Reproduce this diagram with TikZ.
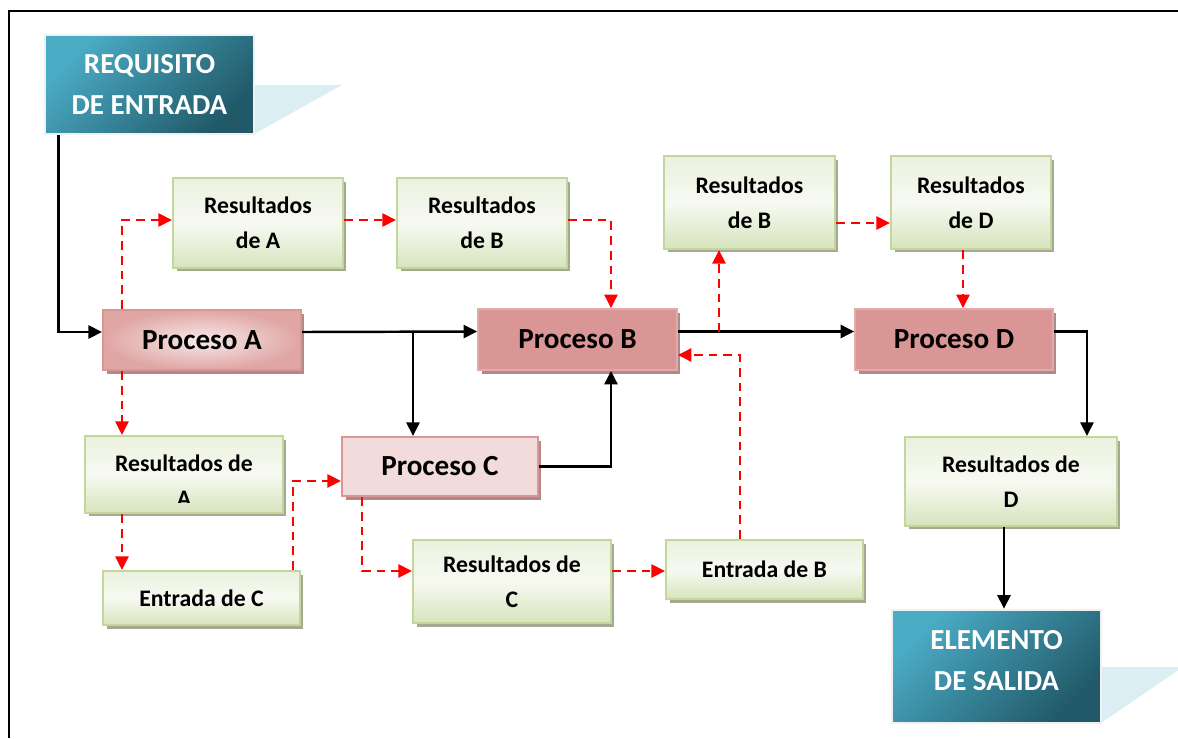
\documentclass[tikz,border=0pt]{standalone}
\usepackage{fontspec}
\setmainfont{Carlito}
\usepackage{tikz}
\usetikzlibrary{arrows.meta}
\usetikzlibrary{shadows}
\definecolor{tealhi}{HTML}{4BACC6}
\definecolor{tealdk}{HTML}{215968}
\definecolor{tailblue}{HTML}{DAEEF3}
\definecolor{rosedk}{HTML}{D99694}
\definecolor{roselt}{HTML}{F2DCDB}
\definecolor{roseshd}{HTML}{B08A89}
\definecolor{greenln}{HTML}{C3D69B}
\definecolor{greentop}{HTML}{EBF1DE}
\definecolor{greenbot}{HTML}{D7E4BD}
\definecolor{greenshd}{HTML}{A5A892}
\tikzset{ioblock/.style = {draw=black!6, line width=1.5pt, top color=tealhi, bottom color=tealdk,
    shading angle=45, text=white, align=center, inner sep=0,
    font=\fontsize{16.5}{23.8}\selectfont\bfseries}}
\tikzset{restext/.style = {align=center, inner sep=0, font=\fontsize{13.5}{19.8}\selectfont\bfseries}}
\tikzset{resbox/.style = {restext, draw=greenln, line width=1.2pt, top color=greentop,
    bottom color=greenbot, middle color=greentop!40!white,
    drop shadow={shadow xshift=0.07cm, shadow yshift=-0.07cm, fill=greenshd, opacity=1}}}
\tikzset{proc/.style = {inner sep=0, minimum width=3.96cm, minimum height=1.2cm,
    font=\fontsize{16.6}{20}\selectfont\bfseries,
    drop shadow={shadow xshift=0.07cm, shadow yshift=-0.07cm, fill=roseshd, opacity=1}}}
\tikzset{procpale/.style = {proc, draw=rosedk, line width=1.2pt, fill=roselt}}
\tikzset{procglow/.style = {proc, draw=rosedk, line width=1.2pt, inner color=roselt!60!white, outer color=rosedk!85!white}}
\tikzset{procfull/.style = {proc, draw=rosedk!80!white, line width=1pt, fill=rosedk}}
\tikzset{flow/.style = {line width=1.4pt, -{Triangle[length=0.27cm, width=0.26cm]}}}
\tikzset{resflow/.style = {red, line width=1.4pt, dash pattern=on 5pt off 3.4pt,
    -{Triangle[length=0.27cm, width=0.26cm]}}}

\begin{document}
\begin{tikzpicture}[x=0.02cm, y=-0.02cm]
    \useasboundingbox (0,0) rectangle (1178,738);
    \draw [line width=1.4pt] (9,738) -- (9,11) -- (1178,11);

    % input and output blocks
    \fill [tailblue] (254,85) -- (342,85) -- (254,134) -- cycle;
    \fill [tailblue] (1101,667) -- (1183,667) -- (1101,723) -- cycle;
    \node [ioblock, minimum width=4.18cm, minimum height=1.98cm] (req) at (149.5,84.5) {REQUISITO\\DE ENTRADA};
    \node [ioblock, minimum width=4.18cm, minimum height=2.26cm, text depth=0.24cm] (sal) at (996.5,666.5) {ELEMENTO\\DE SALIDA};

    % processes
    \node [procglow] (pA) at (202,340) {Proceso A};
    \node [procfull, minimum width=3.98cm, minimum height=1.22cm] (pB) at (577.5,339.5) {Proceso B};
    \node [procpale, minimum width=3.92cm, minimum height=1.18cm] (pC) at (440,466.5) {Proceso C};
    \node [procfull, minimum height=1.22cm] (pD) at (954,339.5) {Proceso D};

    % results and inputs
    \node [resbox, minimum width=3.4cm, minimum height=1.8cm] (rA1) at (258,223) {Resultados\\de A};
    \node [resbox, minimum width=3.4cm, minimum height=1.8cm] (rB1) at (482,223) {Resultados\\de B};
    \node [resbox, minimum width=3.42cm, minimum height=1.86cm] (rB2) at (749.5,202.5) {Resultados\\de B};
    \node [resbox, minimum width=3.2cm, minimum height=1.86cm] (rD1) at (971,202.5) {Resultados\\de D};
    \node [resbox, minimum width=3.96cm, minimum height=1.54cm] (rA2) at (184,474.5) {};
    \begin{scope}
      \clip (rA2.north west) rectangle ([yshift=0.24cm]rA2.south east);
      \node [restext] (rA2txt) at ([yshift=-0.12cm]rA2.center) {Resultados de\\A};
    \end{scope}
    \node [resbox, minimum width=3.94cm, minimum height=1.08cm] (eC) at (201.5,598) {Entrada de C};
    \node [resbox, minimum width=3.96cm, minimum height=1.66cm] (rC) at (512,581.5) {Resultados de\\C};
    \node [resbox, minimum width=3.94cm, minimum height=1.18cm] (eB) at (764.5,569.5) {Entrada de B};
    \node [resbox, minimum width=4.24cm, minimum height=1.78cm] (rD2) at (1011,481.5) {Resultados de\\D};

    % main flow
    \coordinate (split) at (413,332);
    \coordinate (tapB) at (719,332);
    \draw [flow] ([xshift=0.3cm]req.south west) |- ([yshift=0.16cm]pA.west);
    \draw [flow] ([yshift=0.16cm]pA.east) -- ([yshift=0.16cm]pB.west);
    \draw [flow] (split) -- (split |- pC.north);
    \draw [flow] (pC.east) -| ([xshift=0.67cm]pB.south);
    \draw [flow] ([yshift=0.16cm]pB.east) -- ([yshift=0.16cm]pD.west);
    \draw [flow] ([yshift=0.16cm]pD.east) -| ([xshift=1.52cm]rD2.north);
    \draw [flow] ([xshift=-0.14cm]rD2.south) -- ([xshift=-0.14cm]rD2.south |- sal.north);

    % results flow
    \draw [resflow] ([xshift=0.4cm]pA.north west) |- ([yshift=0.06cm]rA1.west);
    \draw [resflow] ([yshift=0.06cm]rA1.east) -- ([yshift=0.06cm]rA1.east -| rB1.west);
    \draw [resflow] ([yshift=0.06cm]rB1.east) -| ([xshift=0.67cm]pB.north);
    \draw [resflow] (tapB) -- (tapB |- rB2.south);
    \draw [resflow] ([yshift=-0.41cm]rB2.east) -- ([yshift=-0.41cm]rB2.east -| rD1.west);
    \draw [resflow] ([xshift=-0.16cm]rD1.south) -- ([xshift=-0.16cm]rD1.south |- pD.north);
    \draw [resflow] ([xshift=-0.49cm]eB.north) |- ([yshift=-0.31cm]pB.east);
    \draw [resflow] ([xshift=0.4cm]pA.south west) -- ([xshift=0.4cm]pA.south west |- rA2.north);
    \draw [resflow] ([xshift=0.76cm]rA2.south west) -- ([xshift=0.76cm]rA2.south west |- eC.north);
    \draw [resflow] ([xshift=-0.16cm]eC.north east) |- ([yshift=-0.29cm]pC.west);
    \draw [resflow] ([xshift=0.42cm]pC.south west) |- ([yshift=0.21cm]rC.west);
    \draw [resflow] ([yshift=0.21cm]rC.east) -- ([yshift=0.21cm]rC.east -| eB.west);
\end{tikzpicture}
\end{document}
